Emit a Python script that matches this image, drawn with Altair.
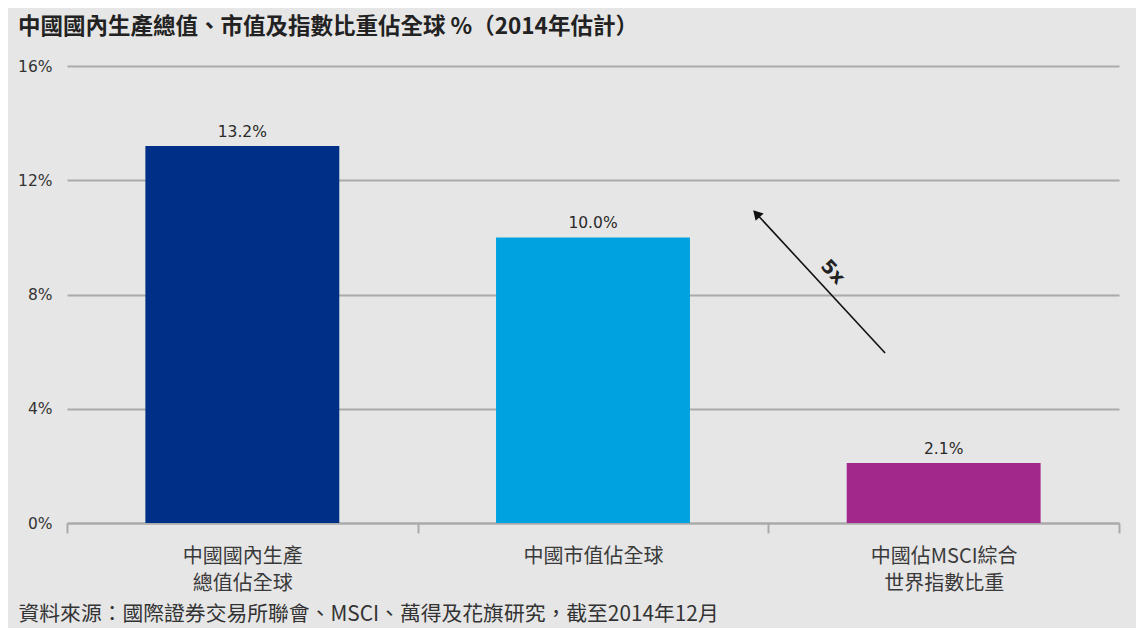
import altair as alt
import pandas as pd

# ---- data ----
categories = ["中國國內生產\n總值佔全球", "中國市值佔全球", "中國佔MSCI綜合\n世界指數比重"]
values = [13.2, 10.0, 2.1]
value_labels = ["13.2%", "10.0%", "2.1%"]
bar_colors = ["#002f87", "#00a3e0", "#a2298b"]
y_ticks = [0, 4, 8, 12, 16]

# arrow annotation (x in category units 0..3, y in %)
arrow_x_start = [2.333]
arrow_y_start = [5.95]
arrow_x_end = [1.966]
arrow_y_end = [10.83]
arrow_label = ["5x"]
arrow_label_x = [2.184]
arrow_label_y = [8.79]

title_text = "中國國內生產總值、市值及指數比重佔全球 %（2014年估計）"
source_text = "資料來源：國際證券交易所聯會、MSCI、萬得及花旗研究，截至2014年12月"

bars_df = pd.DataFrame({"cat": categories, "value": values, "label": value_labels})
arrow_df = pd.DataFrame({"x": arrow_x_start, "y": arrow_y_start,
                         "x2": arrow_x_end, "y2": arrow_y_end})
head_df = pd.DataFrame({"x": arrow_x_end, "y": arrow_y_end})
alabel_df = pd.DataFrame({"x": arrow_label_x, "y": arrow_label_y, "t": arrow_label})

CJK = "Noto Sans CJK TC"
NUM = "DejaVu Sans"

y_scale = alt.Scale(domain=[0, 16], nice=False)
x_band = alt.Scale(domain=categories, paddingInner=0, paddingOuter=0)

x_enc = alt.X(
    "cat:N", sort=categories, scale=x_band,
    axis=alt.Axis(
        title=source_text, titleFont=CJK, titleFontSize=20.8, titleFontWeight="normal",
        titleColor="#333333", titleAnchor="start", titleAlign="left",
        titleBaseline="alphabetic", titleX=-49, titleY=97,
        labelExpr="split(datum.label, '\\n')", labelFont=CJK, labelFontSize=20,
        labelColor="#3a3a3a", labelLineHeight=27, labelPadding=13, labelAngle=0,
        tickBand="extent", tickSize=10, tickColor="#aaaaaa", tickWidth=2,
        domainColor="#aaaaaa", domainWidth=2, grid=False,
    ),
)
y_enc = alt.Y(
    "value:Q", scale=y_scale,
    axis=alt.Axis(
        title=None, values=y_ticks, labelExpr="datum.value + '%'",
        labelFont=NUM, labelFontSize=15.5, labelColor="#333333", labelPadding=15,
        domain=False, ticks=False, grid=True, gridColor="#aaaaaa", gridWidth=2,
    ),
)

bars = alt.Chart(bars_df).mark_bar(width=alt.RelativeBandSize(0.553)).encode(
    x=x_enc,
    y=y_enc,
    color=alt.Color("cat:N", sort=categories,
                    scale=alt.Scale(domain=categories, range=bar_colors), legend=None),
)
bar_text = alt.Chart(bars_df).mark_text(
    baseline="alphabetic", dy=-9, font=NUM, fontSize=15.5, color="#2a2a2a"
).encode(
    x=alt.X("cat:N", sort=categories, scale=x_band),
    y=alt.Y("value:Q", scale=y_scale),
    text="label:N",
)

x_q = alt.Scale(domain=[0, 3], nice=False, zero=False)
arrow = alt.Chart(arrow_df).mark_rule(color="#111111", strokeWidth=1.6).encode(
    x=alt.X("x:Q", scale=x_q, axis=None),
    x2="x2:Q",
    y=alt.Y("y:Q", scale=y_scale),
    y2="y2:Q",
)
head = alt.Chart(head_df).mark_point(
    shape="triangle-up", filled=True, color="#111111", size=120, angle=317, opacity=1
).encode(
    x=alt.X("x:Q", scale=x_q, axis=None),
    y=alt.Y("y:Q", scale=y_scale),
)
alabel = alt.Chart(alabel_df).mark_text(
    angle=47, align="center", baseline="middle", font=NUM, fontSize=19,
    fontWeight="bold", color="#222222"
).encode(
    x=alt.X("x:Q", scale=x_q, axis=None),
    y=alt.Y("y:Q", scale=y_scale),
    text="t:N",
)

chart = alt.layer(
    alt.layer(bars, bar_text),
    alt.layer(arrow, head, alabel),
).resolve_scale(x="independent").properties(
    width=1052,
    height=457,
    background="#e6e6e6",
    autosize=alt.AutoSizeParams(type="none"),
    padding={"left": 59, "top": 58, "right": 17, "bottom": 105},
    title=alt.Title(
        title_text, anchor="start", frame="group", dx=-49, offset=3,
        baseline="alphabetic", font=CJK, fontSize=22.5, fontWeight="bold", color="#222222",
    ),
).configure_view(stroke="transparent")

chart.save("out.html", embed_options={"renderer": "svg", "actions": False})
